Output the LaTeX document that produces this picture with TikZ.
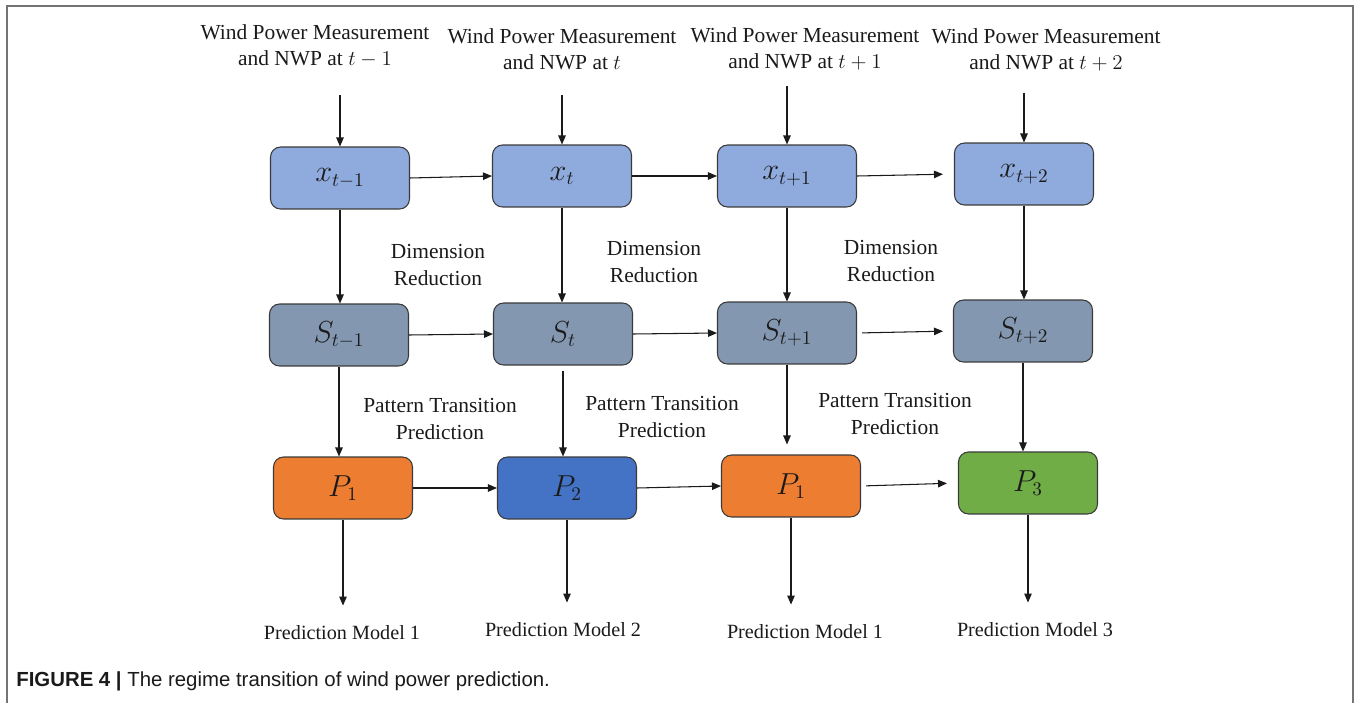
\documentclass[tikz,border=0pt]{standalone}
\usepackage{fontspec}
\setmainfont{Liberation Serif}
\newfontfamily\rtcaptionfont{Liberation Sans}
\usetikzlibrary{arrows.meta}
\definecolor{rtInk}{HTML}{1A1A1A}
\definecolor{rtEdge}{HTML}{3A3A3A}
\definecolor{rtFrame}{HTML}{747474}
\definecolor{rtInput}{HTML}{8FAADC}
\definecolor{rtState}{HTML}{8497B0}
\definecolor{rtOrange}{HTML}{ED7D31}
\definecolor{rtBlue}{HTML}{4472C4}
\definecolor{rtGreen}{HTML}{70AD47}
\tikzset{
  rt box/.style={
    draw=rtEdge,
    line width=.6pt,
    rounded corners=2mm,
    minimum width=2.78cm,
    minimum height=1.24cm,
    inner sep=0pt,
    font=\fontsize{16}{18}\selectfont,
    text=rtInk
  },
  rt input box/.style={rt box, fill=rtInput},
  rt state box/.style={rt box, fill=rtState},
  rt flow/.style={
    draw=rtInk,
    line width=.6pt,
    -{Triangle[length=1.8mm,width=1.5mm]}
  },
  rt label/.style={
    font=\fontsize{12.2}{15}\selectfont,
    text=rtInk,
    align=center,
    inner sep=0pt
  },
  rt output/.style={font=\fontsize{11.5}{13}\selectfont, text=rtInk, inner sep=0pt},
  rt frame/.style={draw=rtFrame, line width=.9pt},
  rt caption/.style={font=\rtcaptionfont\fontsize{11.6}{13}\selectfont, text=rtInk, inner sep=0pt, anchor=west}
}

\begin{document}
\begin{tikzpicture}[x=0.02cm,y=-0.02cm]
  \useasboundingbox (0,0) rectangle (1356,703);
  \draw[rt frame] (7,703) -- (7,6) -- (1353,6) -- (1353,703);

  \node[rt label] (in1) at (315,46) {Wind Power Measurement\\and NWP at $t-1$};
  \node[rt label] (in2) at (562,49) {Wind Power Measurement\\and NWP at $t$};
  \node[rt label] (in3) at (805,49) {Wind Power Measurement\\and NWP at $t+1$};
  \node[rt label] (in4) at (1046,50) {Wind Power Measurement\\and NWP at $t+2$};

  \node[rt input box] (x1) at (340,178) {$x_{t-1}$};
  \node[rt input box] (x2) at (562,176) {$x_{t}$};
  \node[rt input box] (x3) at (787,176) {$x_{t+1}$};
  \node[rt input box] (x4) at (1024,174) {$x_{t+2}$};

  \node[rt state box] (s1) at (339,335) {$S_{t-1}$};
  \node[rt state box] (s2) at (563,334) {$S_{t}$};
  \node[rt state box] (s3) at (787,333) {$S_{t+1}$};
  \node[rt state box] (s4) at (1023,331) {$S_{t+2}$};

  \node[rt box, fill=rtOrange] (p1) at (343,488) {$P_1$};
  \node[rt box, fill=rtBlue] (p2) at (567,488) {$P_2$};
  \node[rt box, fill=rtOrange] (p3) at (791,486) {$P_1$};
  \node[rt box, fill=rtGreen] (p4) at (1028,483) {$P_3$};

  \node[rt label] (dr1) at (438,265) {Dimension\\Reduction};
  \node[rt label] (dr2) at (654,262) {Dimension\\Reduction};
  \node[rt label] (dr3) at (891,261) {Dimension\\Reduction};

  \node[rt label] (pt1) at (440,419) {Pattern Transition\\Prediction};
  \node[rt label] (pt2) at (662,417) {Pattern Transition\\Prediction};
  \node[rt label] (pt3) at (895,414) {Pattern Transition\\Prediction};

  \node[rt output] (out1) at (342,633) {Prediction Model 1};
  \node[rt output] (out2) at (563,630) {Prediction Model 2};
  \node[rt output] (out3) at (805,632) {Prediction Model 1};
  \node[rt output] (out4) at (1035,630) {Prediction Model 3};

  \draw[rt flow, shorten <=.54cm] (x1.north |- in1.south) -- (x1.north);
  \draw[rt flow, shorten <=.5cm] (x2.north |- in2.south) -- (x2.north);
  \draw[rt flow, shorten <=.3cm] (x3.north |- in3.south) -- (x3.north);
  \draw[rt flow, shorten <=.42cm] (x4.north |- in4.south) -- (x4.north);

  \draw[rt flow] (x1.east) -- (x2.west);
  \draw[rt flow] (x2.east) -- (x3.west);
  \draw[rt flow, shorten >=.22cm] (x3.east) -- (x4.west);

  \draw[rt flow] (x1.south) -- (x1.south |- s1.north);
  \draw[rt flow] (x2.south) -- (x2.south |- s2.north);
  \draw[rt flow] (x3.south) -- (x3.south |- s3.north);
  \draw[rt flow] (x4.south) -- (x4.south |- s4.north);

  \draw[rt flow] (s1.east) -- (s2.west);
  \draw[rt flow] (s2.east) -- (s3.west);
  \draw[rt flow, shorten <=.1cm, shorten >=.2cm] (s3.east) -- (s4.west);

  \draw[rt flow] (s1.south) -- (s1.south |- p1.north);
  \draw[rt flow, shorten <=.1cm] (s2.south) -- (s2.south |- p2.north);
  \draw[rt flow, shorten >=.2cm] (s3.south) -- (s3.south |- p3.north);
  \draw[rt flow] (s4.south) -- (s4.south |- p4.north);

  \draw[rt flow] (p1.east) -- (p2.west);
  \draw[rt flow] (p2.east) -- (p3.west);
  \draw[rt flow, shorten <=.1cm, shorten >=.22cm] (p3.east) -- (p4.west);

  \draw[rt flow, shorten >=.4cm] (p1.south) -- (p1.south |- out1.north);
  \draw[rt flow, shorten >=.4cm] (p2.south) -- (p2.south |- out2.north);
  \draw[rt flow, shorten >=.4cm] (p3.south) -- (p3.south |- out3.north);
  \draw[rt flow, shorten >=.4cm] (p4.south) -- (p4.south |- out4.north);

  \node[rt caption] (caption) at (16,681) {\bfseries FIGURE 4 |\mdseries\ The regime transition of wind power prediction.};
\end{tikzpicture}
\end{document}
